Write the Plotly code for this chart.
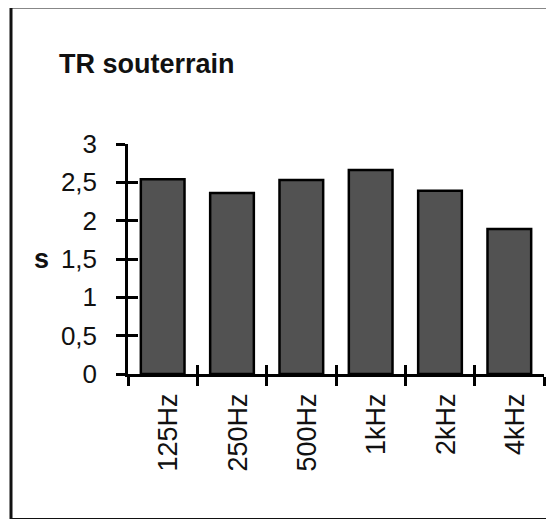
import plotly.graph_objects as go

bands = ["125Hz", "250Hz", "500Hz", "1kHz", "2kHz", "4kHz"]
tr_values = [2.54, 2.36, 2.53, 2.66, 2.39, 1.89]
y_ticks = [0, 0.5, 1, 1.5, 2, 2.5, 3]
y_labels = ["0", "0,5", "1", "1,5", "2", "2,5", "3"]

# the page body adds an 8px margin, so the figure is drawn 8px smaller
OFF = 8
W, H = 554 - OFF, 519 - OFF
ml, mr, mt, mb = 128 - OFF, 18 - OFF, 144 - OFF, 145
pw, ph = W - ml - mr, H - mt - mb


def px_x(x):
    return (x - OFF - ml) / pw


def px_y(y):
    return (H - mb - (y - OFF)) / ph


font = "Liberation Sans, Arial, sans-serif"

fig = go.Figure()
fig.add_trace(go.Bar(
    x=bands, y=tr_values,
    marker=dict(color="#525252", line=dict(color="#000000", width=2.5)),
    hoverinfo="skip"
))
# invisible copy on overlaid axes, used to draw the inner half of the cross ticks
fig.add_trace(go.Bar(
    x=bands, y=tr_values, xaxis="x2", yaxis="y2",
    marker=dict(color="rgba(0,0,0,0)", line=dict(width=0)),
    hoverinfo="skip"
))

axis_common = dict(showline=True, linecolor="#000000", linewidth=2.5,
                   tickcolor="#000000", tickwidth=2.5, showgrid=False, zeroline=False)

fig.update_layout(
    width=W, height=H,
    margin=dict(l=ml, r=mr, t=mt, b=mb),
    paper_bgcolor="white", plot_bgcolor="white",
    showlegend=False, bargap=0.37,
    font=dict(family=font, size=26, color="#111111"),
    xaxis=dict(**axis_common, type="category", range=[-0.5, 5.5],
               ticks="outside", ticklen=9, tickson="boundaries",
               tickangle=-90, ticklabelstandoff=6, ticklabelshift=6,
               tickfont=dict(size=27)),
    yaxis=dict(**axis_common, range=[0, 3], tickvals=y_ticks, ticktext=y_labels,
               ticks="outside", ticklen=9, ticklabelstandoff=14,
               tickfont=dict(size=26)),
    xaxis2=dict(**axis_common, type="category", range=[-0.5, 5.5], overlaying="x",
                ticks="inside", ticklen=9, tickson="boundaries", showticklabels=False),
    yaxis2=dict(**axis_common, range=[0, 3], tickvals=y_ticks, overlaying="y",
                ticks="inside", ticklen=10, showticklabels=False),
    shapes=[dict(type="rect", xref="paper", yref="paper",
                 x0=px_x(11), x1=px_x(600), y0=px_y(519.5), y1=px_y(7),
                 line=dict(color="#111111", width=3), layer="below")],
    annotations=[
        dict(text="<b>TR souterrain</b>", xref="paper", yref="paper",
             x=px_x(57), y=px_y(64), xanchor="left", yanchor="middle",
             showarrow=False, font=dict(size=27, family=font, color="#111111")),
        dict(text="<b>s</b>", xref="paper", yref="y",
             x=px_x(51), y=1.5, xanchor="right", yanchor="middle",
             showarrow=False, font=dict(size=27, family=font, color="#111111")),
    ],
)

fig.write_html("out.html")
